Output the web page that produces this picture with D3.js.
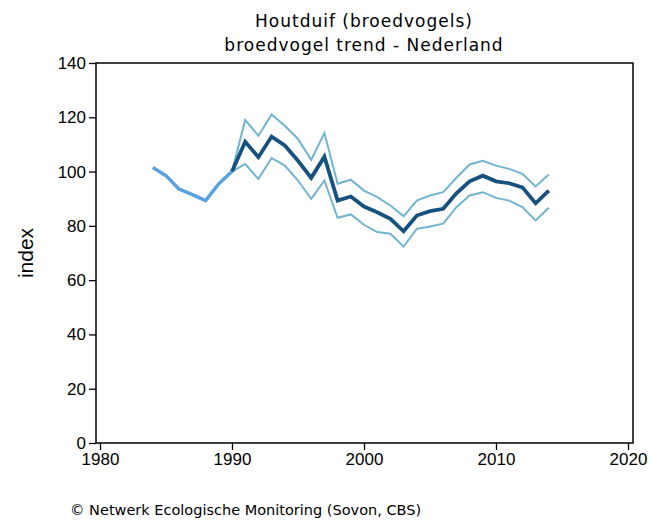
<!DOCTYPE html>
<html>
<head>
<meta charset="utf-8">
<script src="https://cdn.jsdelivr.net/npm/d3@7"></script>
<style>
  body { margin: 0; background: #fff; }
  svg text { fill: #000; }
  .title { font-family: "DejaVu Sans", Verdana, sans-serif; font-size: 17px; letter-spacing: 1px; }
  .footer { font-family: "DejaVu Sans", Verdana, sans-serif; font-size: 14.5px; }
  .tick text { font-family: "Liberation Sans", Arial, sans-serif; font-size: 17px; }
</style>
</head>
<body>
<svg id="chart" width="651" height="525"></svg>
<script>
"use strict";

// early part (before the confidence band starts)
const earlyYears = [1984, 1985, 1986, 1987, 1988, 1989, 1990];
const earlyIndex = [101.5, 98.5, 93.5, 91.5, 89.3, 95.5, 100];

// main trend with confidence band
const years = [1990, 1991, 1992, 1993, 1994, 1995, 1996, 1997, 1998, 1999, 2000, 2001, 2002,
  2003, 2004, 2005, 2006, 2007, 2008, 2009, 2010, 2011, 2012, 2013, 2014];
const index = [100, 111, 105.3, 112.9, 109.6, 104, 97.7, 105.5, 89.3, 90.8, 87.1, 85, 82.6,
  78, 83.8, 85.4, 86.3, 92, 96.4, 98.5, 96.4, 95.7, 94.2, 88.3, 93];
const upper = [100, 119, 113.2, 121, 116.9, 112, 104.3, 114.2, 95.5, 97, 93, 90.6, 87.5,
  83.5, 89.3, 91.2, 92.4, 97.7, 102.6, 104, 102.2, 101, 99.2, 94.5, 98.9];
const lower = [100, 102.8, 97.3, 105, 102.2, 96.7, 90, 96.7, 83, 84.2, 80.4, 77.7, 77.1,
  72.4, 78.9, 79.8, 80.8, 86.9, 91.2, 92.4, 90.3, 89.3, 86.9, 82, 86.7];

const xTicks = [1980, 1990, 2000, 2010, 2020];
const yTicks = [0, 20, 40, 60, 80, 100, 120, 140];

const box = { left: 96, right: 633, top: 63, bottom: 443 };

const svg = d3.select("#chart");

const x = d3.scaleLinear().domain([1980, 2020]).range([100, 628]);
const y = d3.scaleLinear().domain([0, 140]).range([box.bottom, box.top]);

// titles
svg.append("text").attr("class", "title")
  .attr("x", 364).attr("y", 27).attr("text-anchor", "middle")
  .text("Houtduif (broedvogels)");
svg.append("text").attr("class", "title")
  .attr("x", 364).attr("y", 51).attr("text-anchor", "middle")
  .text("broedvogel trend - Nederland");

// plot frame
svg.append("rect")
  .attr("x", box.left).attr("y", box.top)
  .attr("width", box.right - box.left).attr("height", box.bottom - box.top)
  .attr("fill", "none").attr("stroke", "#000").attr("stroke-width", 1.5);

// axes
const yAxis = svg.append("g")
  .attr("transform", `translate(${box.left},0)`)
  .call(d3.axisLeft(y).tickValues(yTicks).tickSize(7).tickPadding(3));
const xAxis = svg.append("g")
  .attr("transform", `translate(0,${box.bottom})`)
  .call(d3.axisBottom(x).tickValues(xTicks).tickFormat(d3.format("d")).tickSize(7).tickPadding(3));
[yAxis, xAxis].forEach(g => {
  g.select(".domain").remove();
  g.selectAll(".tick line").attr("stroke", "#000").attr("stroke-width", 1.3);
});

svg.append("text")
  .attr("transform", "translate(33,253) rotate(-90)")
  .attr("text-anchor", "middle")
  .style("font-family", "'Liberation Sans', Arial, sans-serif")
  .style("font-size", "21px")
  .text("index");

// lines
const line = d3.line().x(d => x(d[0])).y(d => y(d[1]));

svg.append("path")
  .datum(earlyYears.map((yr, i) => [yr, earlyIndex[i]]))
  .attr("d", line).attr("fill", "none")
  .attr("stroke", "#5aa2de").attr("stroke-width", 3.5).attr("stroke-linejoin", "round");

[upper, lower].forEach(arr => {
  svg.append("path")
    .datum(years.map((yr, i) => [yr, arr[i]]))
    .attr("d", line).attr("fill", "none")
    .attr("stroke", "#72b4d0").attr("stroke-width", 2);
});

svg.append("path")
  .datum(years.map((yr, i) => [yr, index[i]]))
  .attr("d", line).attr("fill", "none")
  .attr("stroke", "#17527f").attr("stroke-width", 3.8);

// footer
svg.append("text").attr("class", "footer")
  .attr("x", 70).attr("y", 515)
  .text("© Netwerk Ecologische Monitoring (Sovon, CBS)");
</script>
</body>
</html>
